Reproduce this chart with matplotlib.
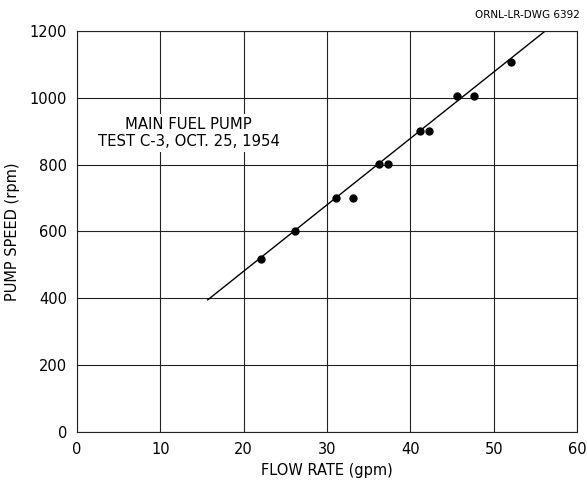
import numpy as np
import matplotlib
matplotlib.use("Agg")
import matplotlib.pyplot as plt

plt.rcParams['font.family'] = ['DejaVu Sans']

# measured points
flow_gpm = [22.1, 26.2, 31.1, 33.1, 36.2, 37.3, 41.2, 42.2, 45.6, 47.6, 52.1]
speed_rpm = [518, 600, 700, 700, 802, 802, 900, 900, 1005, 1005, 1107]

# fitted line end points
fit_x = [15.7, 56.2]
fit_y = [395, 1200]

x_ticks = [0, 10, 20, 30, 40, 50, 60]
y_ticks = [0, 200, 400, 600, 800, 1000, 1200]

fig = plt.figure(figsize=(5.87, 4.83), dpi=100)
ax = fig.add_axes([0.131, 0.106, 0.852, 0.830])

ax.plot(fit_x, fit_y, color='black', lw=1.0)
ax.plot(flow_gpm, speed_rpm, 'o', color='black', ms=5)

ax.set_xlim(0, 60)
ax.set_ylim(0, 1200)
ax.set_xticks(x_ticks)
ax.set_yticks(y_ticks)
ax.grid(True, color='#222222', lw=0.8)
ax.tick_params(length=0, labelsize=10.5, pad=7)
for s in ax.spines.values():
    s.set_linewidth(0.8)
    s.set_color('#222222')

ax.set_xlabel('FLOW RATE (gpm)', fontsize=10.5, labelpad=5)
ax.set_ylabel('PUMP SPEED (rpm)', fontsize=10.5, labelpad=7)

ax.text(13.4, 894, 'MAIN FUEL PUMP\nTEST C-3, OCT. 25, 1954', ha='center', va='center',
        fontsize=10.7, linespacing=1.22,
        bbox=dict(facecolor='white', edgecolor='none', pad=2))

fig.text(0.988, 0.968, 'ORNL-LR-DWG 6392', ha='right', va='center', fontsize=7.5)

fig.savefig('out.png', dpi=100)
